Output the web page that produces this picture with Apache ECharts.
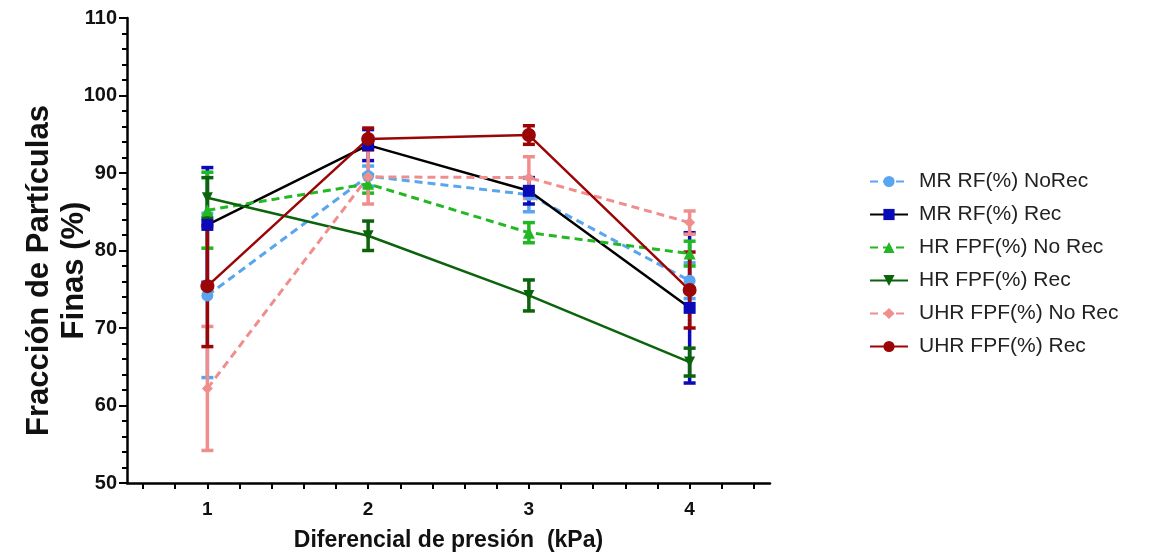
<!DOCTYPE html>
<html>
<head>
<meta charset="utf-8">
<script src="https://cdn.jsdelivr.net/npm/echarts@6/dist/echarts.min.js"></script>
<style>
  html, body { margin: 0; padding: 0; background: #fff; }
  #chart { width: 1158px; height: 557px; }
</style>
</head>
<body>
<div id="chart"></div>
<script>
// x positions (kPa)
var presion = [1, 2, 3, 4];

var seriesNames = [
    'MR RF(%) NoRec',
    'MR RF(%) Rec',
    'HR FPF(%) No Rec',
    'HR FPF(%) Rec',
    'UHR FPF(%) No Rec',
    'UHR FPF(%) Rec'
];

// means
var mrNoRec  = [74.2, 89.6, 87.2, 76.1];
var mrRec    = [83.3, 93.6, 87.7, 72.6];
var hrNoRec  = [85.2, 88.6, 82.3, 79.6];
var hrRec    = [86.8, 81.9, 74.2, 65.6];
var uhrNoRec = [62.2, 89.5, 89.4, 83.6];
var uhrRec   = [75.4, 94.4, 94.9, 74.9];

// error (+/-)
var mrNoRecErr  = [10.6, 1.3, 2.2, 2.3];
var mrRecErr    = [7.4, 2.0, 1.7, 9.7];
var hrNoRecErr  = [4.9, 1.2, 1.3, 1.6];
var hrRecErr    = [2.6, 1.9, 2.0, 1.8];
var uhrNoRecErr = [8.0, 3.5, 2.7, 1.5];
var uhrRecErr   = [7.8, 1.4, 1.2, 4.9];

var xLabels = [1, 2, 3, 4];
var xTicks = [0.6, 0.8, 1, 1.2, 1.4, 1.6, 1.8, 2, 2.2, 2.4, 2.6, 2.8, 3,
              3.2, 3.4, 3.6, 3.8, 4, 4.2, 4.4];

(function () {
    var chart = echarts.init(document.getElementById('chart'));

    var means = [mrNoRec, mrRec, hrNoRec, hrRec, uhrNoRec, uhrRec];
    var errs = [mrNoRecErr, mrRecErr, hrNoRecErr, hrRecErr, uhrNoRecErr, uhrRecErr];
    var lineColors = ['#5aa5ef', '#000000', '#22b822', '#0b640b', '#f08e8e', '#9b0505'];
    var markColors = ['#5aa5ef', '#0a0ab8', '#22b822', '#0b640b', '#f08e8e', '#9b0505'];
    var symbols = ['circle', 'rect', 'triangle', 'path://M0,0 L10,0 L5,9 Z', 'diamond', 'circle'];
    var symbolSizes = [12, 12, 12, 11, 11, 14];
    var dashed = [true, false, true, false, true, false];

    function renderErr(params, api) {
        var x = api.value(0);
        var lo = api.coord([x, api.value(1)]);
        var hi = api.coord([x, api.value(2)]);
        var w = 6;
        var style = { stroke: api.visual('color'), lineWidth: 3.5 };
        return {
            type: 'group',
            children: [
                { type: 'line', shape: { x1: lo[0], y1: lo[1], x2: hi[0], y2: hi[1] }, style: style },
                { type: 'line', shape: { x1: lo[0] - w, y1: lo[1], x2: lo[0] + w, y2: lo[1] }, style: style },
                { type: 'line', shape: { x1: hi[0] - w, y1: hi[1], x2: hi[0] + w, y2: hi[1] }, style: style }
            ]
        };
    }

    var series = [];
    for (var i = 0; i < seriesNames.length; i++) {
        var errData = [];
        var lineData = [];
        for (var j = 0; j < presion.length; j++) {
            errData.push([presion[j], means[i][j] - errs[i][j], means[i][j] + errs[i][j]]);
            lineData.push([presion[j], means[i][j]]);
        }
        series.push({
            name: seriesNames[i] + ' err',
            type: 'custom',
            renderItem: renderErr,
            itemStyle: { color: markColors[i] },
            encode: { x: 0, y: [1, 2] },
            data: errData,
            z: 2,
            silent: true
        });
        series.push({
            name: seriesNames[i],
            type: 'line',
            data: lineData,
            symbol: symbols[i],
            symbolSize: symbolSizes[i],
            showAllSymbol: true,
            lineStyle: {
                color: lineColors[i],
                width: dashed[i] ? 3 : 2.5,
                type: dashed[i] ? [8, 5] : 'solid'
            },
            itemStyle: { color: markColors[i] },
            z: 3
        });
    }

    var option = {
        backgroundColor: '#fff',
        animation: false,
        grid: {
            left: 127,
            top: 18,
            right: 388,
            bottom: 74,
            outerBoundsMode: 'none'
        },
        legend: {
            orient: 'vertical',
            left: 864,
            top: 166,
            itemWidth: 38,
            itemHeight: 14,
            itemGap: 12,
            data: seriesNames,
            textStyle: {
                fontFamily: 'Liberation Sans',
                fontSize: 21,
                color: '#222',
                padding: [0, 0, 0, 6]
            }
        },
        xAxis: {
            type: 'value',
            min: 0.5,
            max: 4.5,
            name: 'Diferencial de presión  (kPa)',
            nameLocation: 'middle',
            nameGap: 46,
            nameTextStyle: {
                fontFamily: 'Liberation Sans',
                fontWeight: 'bold',
                fontSize: 23,
                color: '#111'
            },
            splitLine: { show: false },
            axisLine: { lineStyle: { color: '#000', width: 2.5 } },
            axisTick: {
                customValues: xTicks,
                length: 6,
                lineStyle: { color: '#000', width: 2 }
            },
            axisLabel: {
                customValues: xLabels,
                margin: 17,
                fontFamily: 'Liberation Sans',
                fontWeight: 'bold',
                fontSize: 19,
                color: '#111'
            }
        },
        yAxis: {
            type: 'value',
            min: 50,
            max: 110,
            interval: 10,
            name: 'Fracción de Partículas\nFinas (%)',
            nameLocation: 'middle',
            nameGap: 35,
            nameMoveOverlap: false,
            nameTextStyle: {
                fontFamily: 'Liberation Sans',
                fontWeight: 'bold',
                fontSize: 31,
                lineHeight: 35,
                color: '#111',
                padding: [0, 40, 0, 0]
            },
            splitLine: { show: false },
            axisLine: { show: true, lineStyle: { color: '#000', width: 2.5 } },
            axisTick: { length: 8, lineStyle: { color: '#000', width: 2 } },
            minorTick: { show: true, splitNumber: 5, length: 5, lineStyle: { color: '#000', width: 2 } },
            axisLabel: {
                margin: 10,
                fontFamily: 'Liberation Sans',
                fontWeight: 'bold',
                fontSize: 20,
                color: '#111'
            }
        },
        series: series
    };

    chart.setOption(option);
})();
</script>
</body>
</html>
